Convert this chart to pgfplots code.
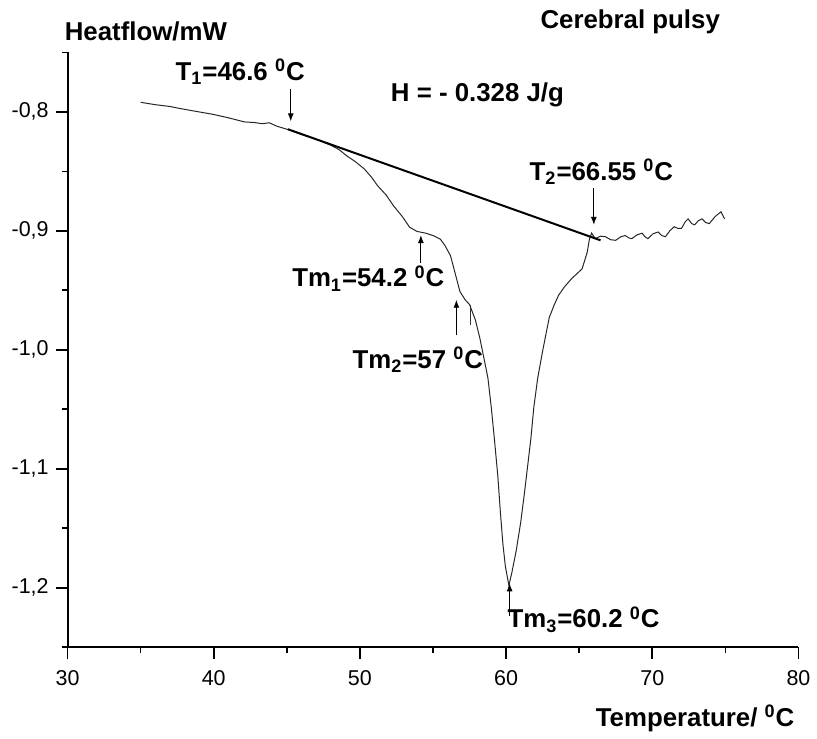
\documentclass[border=0pt]{standalone}
\usepackage{pgfplots}
\pgfplotsset{compat=1.18}
\usepackage{fontspec}
\setmainfont{Liberation Sans}
\usetikzlibrary{arrows.meta}

\newcommand{\lbl}{\fontsize{13}{15}\selectfont\bfseries}
\newcommand{\degC}{\textsuperscript{0}C}

\begin{document}
\begin{tikzpicture}
\begin{axis}[
  scale only axis,
  width=368pt, height=299.5pt,
  xmin=30, xmax=80,
  ymin=-1.25, ymax=-0.75,
  axis lines*=left,
  axis line style={line width=1pt, -},
  tick align=outside,
  xtick={30,40,50,60,70,80},
  minor xtick={35,45,55,65,75},
  ytick={-1.2,-1.1,-1.0,-0.9,-0.8},
  minor ytick={-1.25,-1.15,-1.05,-0.95,-0.85,-0.75},
  major tick length=6pt,
  minor tick length=3pt,
  every tick/.style={black, line width=0.8pt},
  /pgf/number format/assume math mode=true,
  yticklabel style={/pgf/number format/.cd, fixed, precision=1, zerofill, use comma},
  xticklabel style={yshift=-2pt},
  ticklabel style={font=\fontsize{10.8}{12}\selectfont},
  clip=false,
]
% DSC curve
\addplot[black!85, line width=0.5pt] coordinates {
(35.0,-0.792) (36.0,-0.794) (37.0,-0.7955) (37.6,-0.797) (38.5,-0.799)
(39.9,-0.802) (41.0,-0.805) (42.1,-0.8085) (42.8,-0.809) (43.3,-0.810)
(43.8,-0.8092) (44.3,-0.812) (45.1,-0.815) (46.0,-0.819) (47.0,-0.823)
(48.0,-0.828) (48.6,-0.832) (49.1,-0.837) (49.7,-0.842) (50.3,-0.848)
(50.8,-0.855) (51.2,-0.862) (51.8,-0.870) (52.3,-0.879) (52.9,-0.888)
(53.4,-0.897) (53.9,-0.9005) (54.5,-0.902) (55.0,-0.904) (55.5,-0.907)
(55.8,-0.912) (56.2,-0.921) (56.5,-0.935) (56.84,-0.951) (57.2,-0.958)
(57.5,-0.962) (57.9,-0.975) (58.2,-0.990) (58.5,-1.008) (58.76,-1.024)
(59.0,-1.050) (59.2,-1.075) (59.44,-1.107) (59.6,-1.135) (59.78,-1.163)
(59.95,-1.182) (60.19,-1.198) (60.4,-1.187) (60.69,-1.169) (61.0,-1.145)
(61.25,-1.121) (61.5,-1.095) (61.7,-1.074) (61.9,-1.048) (62.16,-1.024)
(62.5,-1.001) (62.95,-0.973) (63.3,-0.962) (63.6,-0.954) (64.0,-0.947)
(64.5,-0.940) (65.2,-0.932) (65.55,-0.918) (65.7,-0.907) (65.85,-0.902)
(66.1,-0.9066) (66.45,-0.9045) (66.8,-0.905) (67.15,-0.9075) (67.5,-0.908)
(67.85,-0.905) (68.15,-0.904) (68.4,-0.906) (68.6,-0.9066) (68.95,-0.9035)
(69.3,-0.902) (69.5,-0.905) (69.7,-0.9066) (70.05,-0.9025) (70.4,-0.901)
(70.65,-0.904) (70.9,-0.905) (71.2,-0.9) (71.5,-0.8966) (71.75,-0.898)
(72.0,-0.898) (72.25,-0.8925) (72.45,-0.890) (72.7,-0.894) (72.9,-0.895)
(73.15,-0.8915) (73.4,-0.890) (73.65,-0.893) (73.9,-0.894) (74.3,-0.888)
(74.7,-0.884) (74.95,-0.890)
};
% baseline
\addplot[black, line width=1pt] coordinates {(45.07,-0.8146) (66.46,-0.908)};
% small tick near Tm2
\addplot[black!80, line width=0.5pt] coordinates {(57.56,-0.9625) (57.56,-0.979)};

% arrows
\draw[line width=0.5pt, -{Latex[length=4pt,width=3pt]}] (axis cs:45.27,-0.7808) -- (axis cs:45.27,-0.808);
\draw[line width=0.5pt, -{Latex[length=4pt,width=3pt]}] (axis cs:66.0,-0.864) -- (axis cs:66.0,-0.895);
\draw[line width=0.5pt, -{Latex[length=4pt,width=3pt]}] (axis cs:54.17,-0.927) -- (axis cs:54.17,-0.9036);
\draw[line width=0.5pt, -{Latex[length=4pt,width=3pt]}] (axis cs:56.6,-0.988) -- (axis cs:56.6,-0.958);
\draw[line width=0.5pt, -{Latex[length=4pt,width=3pt]}] (axis cs:60.24,-1.2237) -- (axis cs:60.24,-1.1963);

% labels
\node[font=\lbl] at (axis cs:35.36,-0.7327) {Heatflow/mW};
\node[font=\lbl] at (axis cs:68.49,-0.7243) {Cerebral pulsy};
\node[font=\lbl, anchor=east] at (axis cs:80.2,-1.3096) {Temperature/ \degC};
\node[font=\lbl] at (axis cs:58.04,-0.7854) {H = - 0.328 J/g};
\node[font=\lbl] at (axis cs:41.81,-0.7661) {T\textsubscript{1}=46.6 \degC};
\node[font=\lbl] at (axis cs:66.52,-0.8506) {T\textsubscript{2}=66.55 \degC};
\node[font=\lbl] at (axis cs:50.57,-0.940) {Tm\textsubscript{1}=54.2 \degC};
\node[font=\lbl] at (axis cs:53.96,-1.0086) {Tm\textsubscript{2}=57 \degC};
\node[font=\lbl] at (axis cs:65.30,-1.2268) {Tm\textsubscript{3}=60.2 \degC};

\coordinate (bl) at (rel axis cs:-0.0924,-0.1424);
\coordinate (tr) at (rel axis cs:1.0177,1.088);
\end{axis}
\path (bl) rectangle (tr);
\end{tikzpicture}
\end{document}
